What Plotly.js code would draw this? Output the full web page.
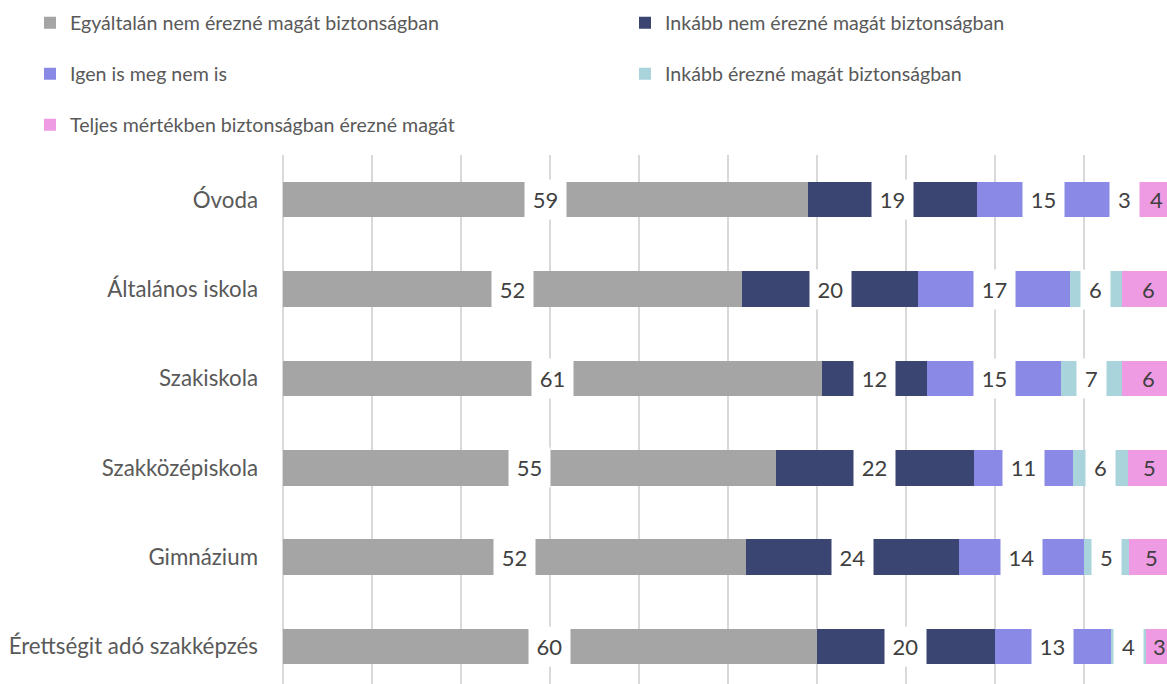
<!DOCTYPE html>
<html><head><meta charset="utf-8">
<script src="https://cdn.plot.ly/plotly-3.0.1.min.js"></script>
<style>html,body{margin:0;padding:0;background:#fff;} #chart{width:1167px;height:684px;}</style>
</head><body><div id="chart"></div>
<script>
// ---- data ----
const categories = ['Óvoda', 'Általános iskola', 'Szakiskola', 'Szakközépiskola', 'Gimnázium', 'Érettségit adó szakképzés'];
const seriesNames = [
  'Egyáltalán nem érezné magát biztonságban',
  'Inkább nem érezné magát biztonságban',
  'Igen is meg nem is',
  'Inkább érezné magát biztonságban',
  'Teljes mértékben biztonságban érezné magát'
];
const egyaltalanNem = [59.0, 51.6, 60.6, 55.4, 52.0, 60.0];
const inkabbNem     = [19.0, 19.8, 11.8, 22.2, 24.0, 20.0];
const igenIsMegNem  = [14.9, 17.0, 15.0, 11.2, 14.0, 13.0];
const inkabbErezne  = [3.3, 5.9, 6.9, 6.1, 5.1, 4.0];
const teljesen      = [3.8, 6.0, 6.0, 5.0, 5.0, 3.0];

// ---- styles ----
const colors = ['#A5A5A5', '#3A4572', '#8A8AE6', '#AAD4DC', '#EE9BE3'];
const FONT = 'Lato, "Open Sans", sans-serif';
const series = [egyaltalanNem, inkabbNem, igenIsMegNem, inkabbErezne, teljesen];
const legendIds = ['legend', 'legend2', 'legend3', 'legend4', 'legend5'];
const W = 1167, H = 684;
const legendPos = [[30, 23], [625, 23], [30, 74], [625, 74], [30, 125]];

const traces = series.map((vals, i) => ({
  type: 'bar', orientation: 'h', name: seriesNames[i],
  x: vals, y: categories,
  marker: {color: colors[i], line: {width: 0}},
  legend: legendIds[i], hoverinfo: 'none'
}));

// data labels (white boxes centred on each segment, like the original)
const annotations = [];
categories.forEach((cat, j) => {
  let cum = 0;
  series.forEach((vals, i) => {
    const v = vals[j];
    const txt = v.toFixed(0);
    const last = i === series.length - 1;
    annotations.push({
      x: cum + v / 2, y: cat, xref: 'x', yref: 'y',
      text: txt, showarrow: false,
      font: {family: FONT, size: 22, color: '#404040'},
      bgcolor: last ? 'rgba(0,0,0,0)' : '#FFFFFF',
      width: txt.length > 1 ? 41 : 29, height: 39, borderpad: 0,
      xanchor: 'center', yanchor: 'middle'
    });
    cum += v;
  });
});

const layout = {
  width: W, height: H,
  margin: {l: 283, r: 0, t: 155, b: 0, pad: 0},
  paper_bgcolor: '#FFFFFF', plot_bgcolor: '#FFFFFF',
  barmode: 'stack', bargap: 0.603,
  font: {family: FONT, color: '#595959'},
  xaxis: {
    range: [0, 99.33], dtick: 10, tick0: 0,
    showgrid: true, gridcolor: '#D9D9D9', gridwidth: 2,
    zeroline: true, zerolinecolor: '#D9D9D9', zerolinewidth: 2,
    showticklabels: false, ticks: '', fixedrange: true
  },
  yaxis: {
    type: 'category', categoryorder: 'array', categoryarray: categories,
    range: [5.419, -0.5], autorange: false,
    showgrid: false, zeroline: false, ticks: '',
    tickfont: {family: FONT, size: 22.3, color: '#595959'},
    ticklabelstandoff: 24, fixedrange: true
  },
  annotations: annotations,
  showlegend: true
};
legendIds.forEach((id, i) => {
  layout[id] = {
    xref: 'container', yref: 'container',
    x: legendPos[i][0] / W, y: 1 - legendPos[i][1] / H,
    xanchor: 'left', yanchor: 'middle',
    orientation: 'h', bgcolor: 'rgba(0,0,0,0)', borderwidth: 0,
    font: {family: FONT, size: 19.6, color: '#595959'}
  };
});

Plotly.newPlot('chart', traces, layout, {staticPlot: true, displayModeBar: false});
</script></body></html>
